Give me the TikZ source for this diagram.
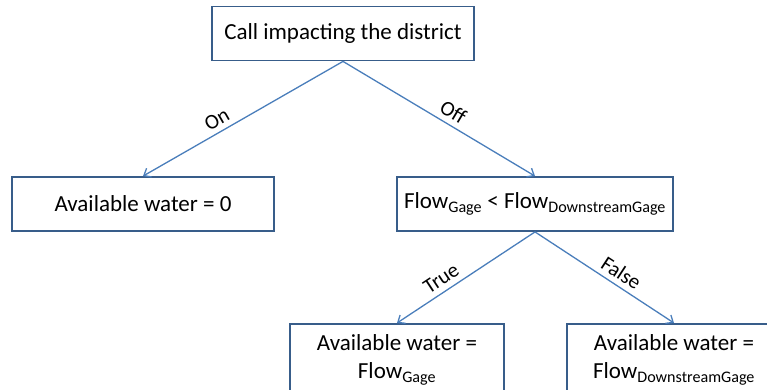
\documentclass[tikz,border=0pt]{standalone}
\usepackage{fontspec}
\setmainfont{Carlito}
\usetikzlibrary{arrows.meta}
\definecolor{boxblue}{RGB}{56,93,138}
\definecolor{linkblue}{RGB}{74,126,187}
\def\flow#1{Flow\textsubscript{#1}}

\begin{document}
\begin{tikzpicture}[x=1pt, y=1pt, >={Straight Barb[length=6pt,width=10pt]}]
    \tikzstyle{every node} = [font=\fontsize{23pt}{28pt}\selectfont]
    \tikzstyle{decision} = [draw=boxblue, line width=1.8pt, fill=white, align=center, minimum height=54pt]
    \tikzstyle{result} = [decision, anchor=north, minimum height=72pt]
    \tikzstyle{link} = [->, draw=linkblue, line width=1.3pt]
    \tikzstyle{choice} = [sloped, above, font=\fontsize{21pt}{24pt}\selectfont, inner sep=5pt]

    \useasboundingbox (0,0) rectangle (767,-389);
    \clip (0,0) rectangle (767,-389);

    \node (call) [decision, minimum width=262pt] at (343,-33.5) {Call impacting the district};
    \node (zero) [decision, minimum width=262pt] at (143,-204) {Available water = 0};
    \node (compare) [decision, minimum width=276pt] at (535,-204) {\flow{Gage} < \flow{DownstreamGage}};
    \node (gage) [result, minimum width=214pt] at (397,-323) {Available water =\\ \flow{Gage}};
    \node (downstream) [result, minimum width=214pt] at (674,-323) {Available water =\\ \flow{DownstreamGage}};

    \draw [link] (call.south) -- node[choice, pos=0.6] {On} (zero.north);
    \draw [link] (call.south) -- node[choice, pos=0.54] {Off} (compare.north);
    \draw [link] (compare.south) -- node[choice, pos=0.63] {True} (gage.north);
    \draw [link] (compare.south) -- node[choice, pos=0.57] {False} (downstream.north);
\end{tikzpicture}
\end{document}
